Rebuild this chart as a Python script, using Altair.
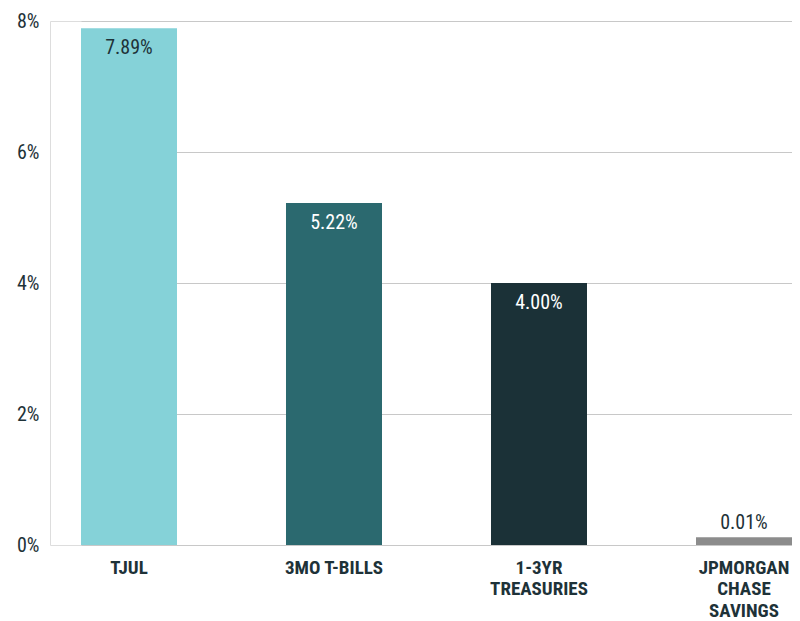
import altair as alt
import pandas as pd

categories = ["TJUL", "3MO T-BILLS", "1-3YR TREASURIES", "JPMORGAN CHASE SAVINGS"]
axis_labels = ["TJUL", "3MO T-BILLS", "1-3YR|TREASURIES", "JPMORGAN|CHASE|SAVINGS"]
values = [7.89, 5.22, 4.00, 0.01]
value_labels = ["7.89%", "5.22%", "4.00%", "0.01%"]
y_ticks = [0, 2, 4, 6, 8]

bar_colors = ["#85D2D8", "#2B696F", "#1B3137", "#8C8C8C"]
text_colors = ["#1E3238", "#FFFFFF", "#FFFFFF", "#1E3238"]

FONT = "Liberation Sans Narrow, Roboto Condensed, DejaVu Sans Condensed, sans-serif"
DARK = "#1E3238"

df = pd.DataFrame({
    "category": categories,
    "axislabel": axis_labels,
    "value": values,
    "label": value_labels,
})

x_scale = alt.Scale(range=[31, 742], paddingInner=0.5317, paddingOuter=0)

x_enc = alt.X(
    "axislabel:N",
    sort=axis_labels,
    scale=x_scale,
    axis=alt.Axis(
        title=None,
        labelAngle=0,
        labelExpr="split(datum.label, '|')",
        labelFont=FONT,
        labelFontSize=19,
        labelFontWeight="bold",
        labelColor=DARK,
        labelLineHeight=21.5,
        labelPadding=13,
        labelBaseline="top",
        ticks=False,
        domain=False,
        grid=False,
    ),
)

y_scale = alt.Scale(domain=[0, 8], nice=False)
y_axis = alt.Axis(
    title=None,
    values=y_ticks,
    labelExpr="datum.value + '%'",
    labelFont=FONT,
    labelFontSize=20,
    labelFontWeight="normal",
    labelColor=DARK,
    labelPadding=11,
    ticks=False,
    domain=False,
    grid=True,
    gridColor="#C8C8C8",
    gridWidth=1,
)

color_enc = alt.Color(
    "category:N",
    scale=alt.Scale(domain=categories, range=bar_colors),
    legend=None,
)
text_color_enc = alt.Color(
    "category:N",
    scale=alt.Scale(domain=categories, range=text_colors),
    legend=None,
)

base = alt.Chart(df)
x_plain = alt.X("axislabel:N", sort=axis_labels)

bars = base.transform_filter("datum.value >= 1").mark_bar().encode(
    x=x_enc,
    y=alt.Y("value:Q", scale=y_scale, axis=y_axis),
    color=color_enc,
)

small_bar = base.transform_filter("datum.value < 1").mark_bar(
    yOffset=-7, y2Offset=0.001
).encode(
    x=x_plain,
    y=alt.Y("value:Q", stack=None),
    y2=alt.Y2(datum=0),
    color=color_enc,
)

inside_text = base.transform_filter("datum.value >= 1").mark_text(
    font=FONT, fontSize=20, fontWeight="normal", baseline="middle", dy=20
).encode(
    x=x_plain,
    y=alt.Y("value:Q"),
    text="label:N",
    color=text_color_enc,
)

outside_text = base.transform_filter("datum.value < 1").mark_text(
    font=FONT, fontSize=20, fontWeight="normal", baseline="middle", dy=-21
).encode(
    x=x_plain,
    y=alt.Y("value:Q"),
    text="label:N",
    color=text_color_enc,
)

chart = alt.layer(bars, small_bar, inside_text, outside_text).resolve_scale(
    color="independent"
).properties(
    width=742,
    height=524,
    autosize=alt.AutoSizeParams(type="none"),
    padding={"left": 42, "top": 13, "right": 0, "bottom": 78},
).configure_view(stroke=None).configure(background="#FFFFFF")

chart.save("out.html", embed_options={"renderer": "svg", "actions": False})
